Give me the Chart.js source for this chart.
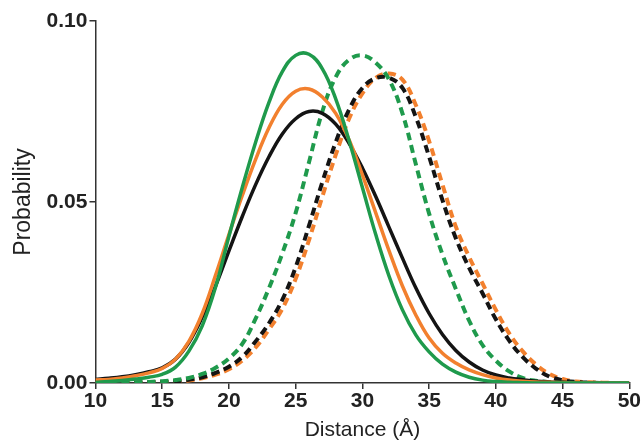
<!DOCTYPE html>
<html>
<head>
<meta charset="utf-8">
<script src="https://cdn.jsdelivr.net/npm/chart.js@4.4.1/dist/chart.umd.min.js"></script>
<style>
  html, body { margin: 0; padding: 0; background: #fff; }
  #wrap { width: 643px; height: 445px; }
</style>
</head>
<body>
<div id="wrap"><canvas id="chart" width="643" height="445"></canvas></div>
<script>
// distance axis (Å), one point per Å
const distance = [];
for (let d = 10; d <= 50; d++) distance.push(d);

// solid curves
const greenSolid = [0.0002, 0.0004, 0.0007, 0.0011, 0.0016, 0.0024, 0.0044, 0.0088, 0.0158, 0.0265,
  0.0405, 0.0540, 0.0665, 0.0775, 0.0860, 0.0905, 0.0908, 0.0868, 0.0785, 0.0670,
  0.0540, 0.0410, 0.0295, 0.0202, 0.0133, 0.0086, 0.0052, 0.0030, 0.0016, 0.0008,
  0.0004, 0.0002, 0.0001, 0, 0, 0, 0, 0, 0, 0, 0];
const orangeSolid = [0.0008, 0.0010, 0.0014, 0.0020, 0.0028, 0.0040, 0.0066, 0.0115, 0.0192, 0.0298,
  0.0410, 0.0518, 0.0618, 0.0705, 0.0770, 0.0806, 0.0812, 0.0790, 0.0745, 0.0672,
  0.0575, 0.0470, 0.0365, 0.0268, 0.0188, 0.0124, 0.0082, 0.0055, 0.0036, 0.0023,
  0.0014, 0.0008, 0.0005, 0.0003, 0.0002, 0.0001, 0, 0, 0, 0, 0];
const blackSolid = [0.0010, 0.0013, 0.0017, 0.0023, 0.0031, 0.0042, 0.0066, 0.0112, 0.0182, 0.0268,
  0.0365, 0.0460, 0.0548, 0.0625, 0.0688, 0.0730, 0.0750, 0.0745, 0.0715, 0.0662,
  0.0594, 0.0515, 0.0430, 0.0345, 0.0263, 0.0192, 0.0134, 0.0090, 0.0058, 0.0036,
  0.0022, 0.0014, 0.0009, 0.0005, 0.0003, 0.0002, 0.0001, 0, 0, 0, 0];

// dashed curves
const greenDashed = [0, 0, 0.0001, 0.0002, 0.0003, 0.0005, 0.0008, 0.0014, 0.0025, 0.0042,
  0.0068, 0.0108, 0.0178, 0.0262, 0.0358, 0.0470, 0.0610, 0.0750, 0.0845, 0.0893,
  0.0905, 0.0885, 0.0838, 0.0745, 0.0605, 0.0468, 0.0355, 0.0260, 0.0172, 0.0105,
  0.0062, 0.0032, 0.0014, 0.0006, 0.0003, 0.0001, 0, 0, 0, 0, 0];
const blackDashed = [0, 0, 0, 0.0001, 0.0002, 0.0003, 0.0005, 0.0009, 0.0016, 0.0028,
  0.0045, 0.0072, 0.0115, 0.0165, 0.0230, 0.0320, 0.0435, 0.0555, 0.0665, 0.0755,
  0.0815, 0.0842, 0.0843, 0.0815, 0.0735, 0.0625, 0.0505, 0.0400, 0.0318, 0.0248,
  0.0176, 0.0117, 0.0072, 0.0040, 0.0018, 0.0008, 0.0003, 0.0001, 0, 0, 0];
const orangeDashed = [0, 0, 0, 0.0001, 0.0001, 0.0002, 0.0004, 0.0007, 0.0013, 0.0023,
  0.0038, 0.0062, 0.0098, 0.0148, 0.0205, 0.0288, 0.0395, 0.0515, 0.0630, 0.0730,
  0.0800, 0.0843, 0.0855, 0.0838, 0.0768, 0.0668, 0.0548, 0.0432, 0.0348, 0.0275,
  0.0202, 0.0137, 0.0088, 0.0051, 0.0025, 0.0011, 0.0004, 0.0002, 0.0001, 0, 0];

const yTicks = [0, 0.05, 0.10];

const GREEN = '#1f9a4c';
const ORANGE = '#f2802e';
const BLACK = '#141414';

function pts(values) {
    return distance.map((d, i) => ({ x: d, y: values[i] }));
}

function series(values, color, dashed) {
    return {
        data: pts(values),
        borderColor: color,
        borderWidth: dashed ? 4 : 3.5,
        borderDash: dashed ? [8, 5] : [],
        pointRadius: 0,
        fill: false,
        tension: 0.4
    };
}

const FAMILY = 'Liberation Sans, Arial, sans-serif';
const tickFont = { family: FAMILY, size: 21, weight: 'bold', lineHeight: 1 };

new Chart(document.getElementById('chart'), {
    type: 'line',
    data: {
        // dataset 0 is drawn on top, so the solid curves go first
        datasets: [
            series(greenSolid, GREEN, false),
            series(orangeSolid, ORANGE, false),
            series(blackSolid, BLACK, false),
            series(greenDashed, GREEN, true),
            series(blackDashed, BLACK, true),
            series(orangeDashed, ORANGE, true)
        ]
    },
    options: {
        responsive: false,
        animation: false,
        layout: { padding: { top: 21, right: 2, left: 10, bottom: 4 } },
        plugins: { legend: { display: false }, tooltip: { enabled: false } },
        scales: {
            x: {
                type: 'linear',
                min: 10,
                max: 50,
                ticks: { stepSize: 5, color: '#222', font: tickFont, padding: 2, maxRotation: 0 },
                grid: { drawOnChartArea: false, drawTicks: true, tickLength: 6, color: '#333', lineWidth: 1.5 },
                border: { color: '#333', width: 1.5 },
                title: { display: true, text: 'Distance (Å)', color: '#222', font: { family: FAMILY, size: 21, lineHeight: 1 }, padding: { top: 6, bottom: 0 } }
            },
            y: {
                min: 0,
                max: 0.1,
                afterBuildTicks: axis => { axis.ticks = yTicks.map(v => ({ value: v })); },
                ticks: { color: '#222', font: tickFont, padding: 2, callback: v => v.toFixed(2) },
                grid: { drawOnChartArea: false, drawTicks: true, tickLength: 6, color: '#333', lineWidth: 1.5 },
                border: { color: '#333', width: 1.5 },
                title: { display: true, text: 'Probability', color: '#222', font: { family: FAMILY, size: 23 }, padding: { top: 0, bottom: 7 } }
            }
        }
    }
});
</script>
</body>
</html>
